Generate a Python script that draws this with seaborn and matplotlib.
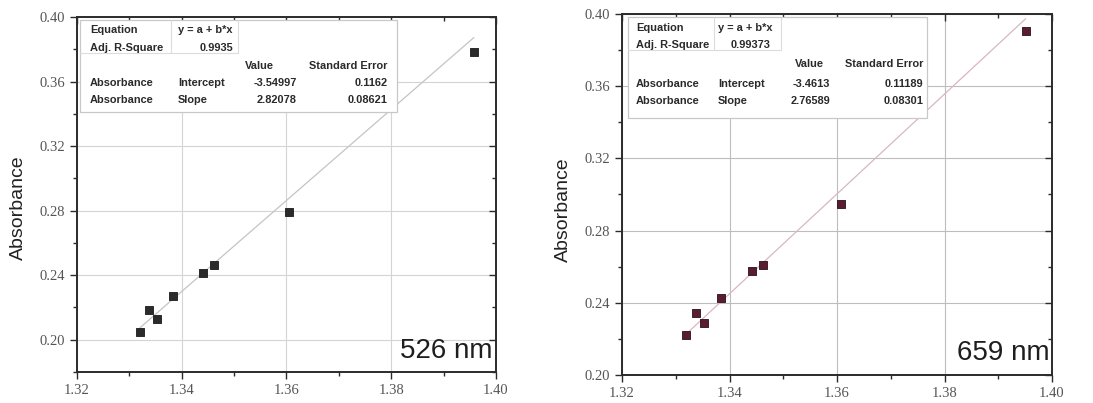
import numpy as np
import pandas as pd
import matplotlib
matplotlib.use("Agg")
import matplotlib.pyplot as plt
from matplotlib.ticker import MultipleLocator, FormatStrFormatter
from matplotlib.patches import Rectangle
from matplotlib.lines import Line2D
import seaborn as sns

# Refractive index vs. absorbance at two wavelengths
ri_526 = [1.3320, 1.3338, 1.3352, 1.3383, 1.3441, 1.3461, 1.3604, 1.3958]
abs_526 = [0.2051, 0.2185, 0.2128, 0.2272, 0.2416, 0.2462, 0.2793, 0.3785]
ri_659 = [1.3319, 1.3338, 1.3353, 1.3385, 1.3441, 1.3462, 1.3607, 1.3951]
abs_659 = [0.2222, 0.2346, 0.2287, 0.2426, 0.2578, 0.2607, 0.2950, 0.3906]

# Linear fit results (y = a + b*x)
fit_526 = dict(adj_r2="0.9935", a=-3.54997, a_err="0.1162", b=2.82078, b_err="0.08621")
fit_659 = dict(adj_r2="0.99373", a=-3.4613, a_err="0.11189", b=2.76589, b_err="0.08301")

x_ticks = [1.32, 1.34, 1.36, 1.38, 1.40]
y_ticks = [0.20, 0.24, 0.28, 0.32, 0.36, 0.40]

sns.set_theme(style="white")
plt.rcParams["font.family"] = ["Liberation Sans", "DejaVu Sans"]

fig = plt.figure(figsize=(10.93, 4.03), dpi=100)
ax_l = fig.add_axes([0.0704, 0.0769, 0.3833, 0.8809])
ax_r = fig.add_axes([0.5691, 0.0695, 0.3934, 0.8958])

panels = [
    dict(ax=ax_l, x=ri_526, y=abs_526, fit=fit_526, ylim=(0.18, 0.40), label="526 nm",
         face="#2b2b2b", edge="#1a1a1a", line="#c4c4c4", grid="#d4d4d4",
         cols=dict(c1=0.031, c2=0.241, adj=0.332, vh=0.401, v=0.525, se=0.742),
         box=(0.007, 0.732, 0.764, 0.992), rows=[0.963, 0.913, 0.862, 0.815, 0.765],
         sep_x=0.225, sep_x2=0.385, lab=(-0.119, 0.462), tag=(0.993, 0.039)),
    dict(ax=ax_r, x=ri_659, y=abs_659, fit=fit_659, ylim=(0.20, 0.40), label="659 nm",
         face="#5a1c30", edge="#2a1018", line="#d9b7bf", grid="#bdbdbd",
         cols=dict(c1=0.033, c2=0.223, adj=0.300, vh=0.402, v=0.484, se=0.700),
         box=(0.014, 0.712, 0.709, 0.992), rows=[0.961, 0.914, 0.861, 0.806, 0.759],
         sep_x=0.215, sep_x2=0.370, lab=(-0.116, 0.457), tag=(0.995, 0.042)),
]

TICK_COLOR = "#2b2b2b"

for p in panels:
    ax = p["ax"]
    df = pd.DataFrame({"ri": p["x"], "abs": p["y"]})
    f = p["fit"]

    # fitted straight line over the measured range
    xs = np.array([min(p["x"]), max(p["x"])])
    line_df = pd.DataFrame({"ri": xs, "abs": f["a"] + f["b"] * xs})
    sns.lineplot(data=line_df, x="ri", y="abs", ax=ax, color=p["line"], lw=0.9, zorder=2)

    sns.scatterplot(data=df, x="ri", y="abs", ax=ax, marker="s", s=30,
                    color=p["face"], edgecolor=p["edge"], linewidth=0.6, zorder=4)

    ax.set_xlim(1.32, 1.40)
    ax.set_ylim(*p["ylim"])
    yt = [t for t in y_ticks if p["ylim"][0] - 1e-9 <= t <= p["ylim"][1] + 1e-9]
    ax.set_xticks(x_ticks)
    ax.set_yticks(yt)
    ax.xaxis.set_minor_locator(MultipleLocator(0.01))
    ax.yaxis.set_minor_locator(MultipleLocator(0.02))
    ax.xaxis.set_major_formatter(FormatStrFormatter("%.2f"))
    ax.yaxis.set_major_formatter(FormatStrFormatter("%.2f"))

    ax.grid(True, which="major", color=p["grid"], lw=0.8, zorder=0)
    ax.set_axisbelow(True)

    for s in ax.spines.values():
        s.set_visible(True)
        s.set_color(TICK_COLOR)
        s.set_linewidth(1.4)

    # outward ticks on bottom/left
    ax.tick_params(axis="x", which="both", direction="out", bottom=True, top=False,
                   color=TICK_COLOR, width=1.0)
    ax.tick_params(axis="y", which="both", direction="out", left=True, right=False,
                   color=TICK_COLOR, width=1.0)
    ax.tick_params(which="major", length=5)
    ax.tick_params(which="minor", length=3)

    # inward ticks on top/right
    sec_x = ax.secondary_xaxis("top")
    sec_x.set_zorder(3)
    sec_x.set_xticks(x_ticks)
    sec_x.xaxis.set_minor_locator(MultipleLocator(0.01))
    sec_x.tick_params(which="both", direction="in", labeltop=False, color=TICK_COLOR, width=1.0)
    sec_x.tick_params(which="major", length=5)
    sec_x.tick_params(which="minor", length=3)
    sec_x.spines["top"].set_visible(False)
    sec_y = ax.secondary_yaxis("right")
    sec_y.set_zorder(3)
    sec_y.set_yticks(yt)
    sec_y.yaxis.set_minor_locator(MultipleLocator(0.02))
    sec_y.tick_params(which="both", direction="in", labelright=False, color=TICK_COLOR, width=1.0)
    sec_y.tick_params(which="major", length=5)
    sec_y.tick_params(which="minor", length=3)
    sec_y.spines["right"].set_visible(False)

    for lbl in ax.get_xticklabels() + ax.get_yticklabels():
        lbl.set_fontfamily(["Liberation Serif", "DejaVu Serif"])
        lbl.set_fontsize(10.5)
        lbl.set_color("#555555")

    ax.set_xlabel("")
    ax.set_ylabel("Absorbance", fontsize=14, color="#222222")
    ax.yaxis.set_label_coords(*p["lab"])

    ax.text(p["tag"][0], p["tag"][1], p["label"], transform=ax.transAxes,
            ha="right", va="baseline", fontsize=20, color="#1e1e1e", zorder=6)

    # fit summary table
    x0, y0, x1, y1 = p["box"]
    ax.add_patch(Rectangle((x0, y0), x1 - x0, y1 - y0, transform=ax.transAxes,
                           facecolor="white", edgecolor="#c8c8c8", lw=0.9, zorder=5))
    r = p["rows"]
    mid12 = (r[1] + r[2]) / 2 + 0.012
    ax.add_line(Line2D([x0, p["sep_x2"]], [mid12, mid12], transform=ax.transAxes,
                       color="#dcdcdc", lw=0.8, zorder=5))
    for sx in (p["sep_x"], p["sep_x2"]):
        ax.add_line(Line2D([sx, sx], [mid12, y1], transform=ax.transAxes,
                           color="#dcdcdc", lw=0.8, zorder=5))
    c = p["cols"]
    tk = dict(transform=ax.transAxes, fontsize=7.9, fontweight="bold", color="#2a2a2a",
              va="center", zorder=6)
    ax.text(c["c1"], r[0], "Equation", ha="left", **tk)
    ax.text(c["c2"], r[0], "y = a + b*x", ha="left", **tk)
    ax.text(c["c1"], r[1], "Adj. R-Square", ha="left", **tk)
    ax.text(c["adj"], r[1], f["adj_r2"], ha="center", **tk)
    ax.text(c["vh"], r[2], "Value", ha="left", **tk)
    ax.text(c["se"], r[2], "Standard Error", ha="right", **tk)
    ax.text(c["c1"], r[3], "Absorbance", ha="left", **tk)
    ax.text(c["c2"], r[3], "Intercept", ha="left", **tk)
    ax.text(c["v"], r[3], f"{f['a']}", ha="right", **tk)
    ax.text(c["se"], r[3], f["a_err"], ha="right", **tk)
    ax.text(c["c1"], r[4], "Absorbance", ha="left", **tk)
    ax.text(c["c2"], r[4], "Slope", ha="left", **tk)
    ax.text(c["v"], r[4], f"{f['b']}", ha="right", **tk)
    ax.text(c["se"], r[4], f["b_err"], ha="right", **tk)

fig.savefig("out.png", dpi=100, facecolor="white")
